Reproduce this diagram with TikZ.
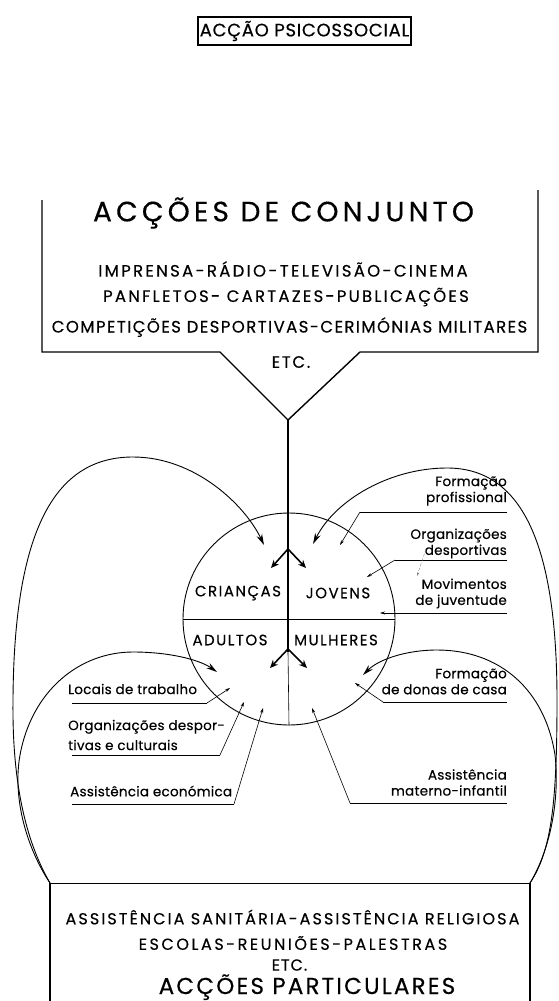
\documentclass[tikz,border=0pt]{standalone}
\usepackage{fontspec}
\setmainfont{Poppins}[FakeBold=0.4]
\usetikzlibrary{arrows.meta}
\begin{document}
\begin{tikzpicture}[x=1pt,y=-1pt,
  heavy/.style={line width=1.4pt},
  bigloop/.style={line width=0.9pt,-{Stealth[length=11pt,width=6pt]}},
  leader/.style={line width=0.6pt,-{Stealth[length=5pt,width=3pt]}},
  under/.style={line width=0.7pt},
  fork/.style={line width=1.6pt,-{Stealth[length=8pt,width=7pt]}},
  txt/.style={inner sep=0pt},
  capsA/.style={txt,font=\fontsize{28}{28}\selectfont\addfontfeature{LetterSpace=15}},
  capsB/.style={txt,font=\fontsize{16.5}{16.5}\selectfont\addfontfeature{LetterSpace=#1}},
  capsC/.style={txt,font=\fontsize{16}{16}\selectfont\addfontfeature{LetterSpace=#1}},
  group/.style={txt,font=\fontsize{15}{15}\selectfont\addfontfeature{LetterSpace=10}},
  lblr/.style={txt,font=\fontsize{13.5}{16}\selectfont\addfontfeature{LetterSpace=2},align=right,anchor=east},
  lbll/.style={txt,font=\fontsize{13.5}{20}\selectfont\addfontfeature{LetterSpace=2},align=left,anchor=west},
]
\useasboundingbox (0,0) rectangle (558,1001);

% title
\node[draw,heavy,minimum width=213pt,minimum height=28pt,inner sep=0pt,
  font=\fontsize{18}{18}\selectfont\addfontfeature{LetterSpace=4}] (title) at (304.5,31) {ACÇÃO PSICOSSOCIAL};

% top box
\coordinate (V) at (288,420);
\draw[heavy,line join=miter] (42,200) -- (42,352) -- (220,352) -- (V) -- (360,352) -- (538,352) -- (538,190);
\node[capsA] (conj) at (283.5,213) {ACÇÕES DE CONJUNTO};
\node[capsB=14] (l1) at (283,269) {IMPRENSA-RÁDIO-TELEVISÃO-CINEMA};
\node[capsB=13.5] (l2) at (286,297) {PANFLETOS- CARTAZES-PUBLICAÇÕES};
\node[capsB=8.7] (l3) at (289.5,327) {COMPETIÇÕES DESPORTIVAS-CERIMÓNIAS MILITARES};
\node[capsB=10] (l4) at (291,362) {ETC.};

% circle
\node[circle,draw,line width=0.9pt,minimum size=212pt,inner sep=0pt] (circ) at (289,619) {};
\draw[line width=1pt] (circ.west) -- (circ.east);
\coordinate (f1) at (288,549);
\coordinate (f2) at (288,649);
\draw[line width=2.4pt] (V) -- (288,652);
\draw[line width=0.6pt] (288,652) -- (circ.south);
\draw[fork] (f1) -- (271,568);
\draw[fork] (f1) -- (306,568);
\draw[fork] (f2) -- (270,668);
\draw[fork] (f2) -- (307,668);

\node[group] (cri) at (238,593) {CRIANÇAS};
\node[group] (jov) at (338,593) {JOVENS};
\node[group] (adu) at (230,640) {ADULTOS};
\node[group] (mul) at (336,640) {MULHERES};

% bottom box
\coordinate (BL) at (50,883);
\coordinate (BR) at (530,883);
\draw[heavy] (50,1001) -- (BL);
\draw[heavy] (530,1001) -- (BR);
\draw[line width=1pt] (BL) -- (BR);
\node[capsC=13] (b1) at (292.5,917) {ASSISTÊNCIA SANITÁRIA-ASSISTÊNCIA RELIGIOSA};
\node[capsC=16] (b2) at (293,943) {ESCOLAS-REUNIÕES-PALESTRAS};
\node[capsC=6] (b3) at (289.5,965) {ETC.};
\node[txt,anchor=base,font=\fontsize{23}{23}\selectfont\addfontfeature{LetterSpace=9.5}] (b4) at (307,994) {ACÇÕES PARTICULARES};

% arrow tips of the big loops
\coordinate (tLo) at (264,545);
\coordinate (tLi) at (217,672);
\coordinate (tRo) at (313,544);
\coordinate (tRi) at (363,675);

\draw[bigloop] (BL) .. controls (25,840) and (12,780) .. (13,700)
  .. controls (14,520) and (60,457) .. (133,457)
  .. controls (195,457) and (245,505) .. (tLo);
\draw[bigloop] (BL) .. controls (28,850) and (12,800) .. (20,755)
  .. controls (32,690) and (80,652) .. (133,652)
  .. controls (170,652) and (200,660) .. (tLi);
\draw[bigloop] (BR) .. controls (552,850) and (557,800) .. (557,700)
  .. controls (557,540) and (520,468) .. (447,468)
  .. controls (390,468) and (335,500) .. (tRo);
\draw[bigloop] (BR) .. controls (550,850) and (560,800) .. (555,755)
  .. controls (545,690) and (500,650) .. (437,650)
  .. controls (405,650) and (378,660) .. (tRi);

% right labels
\node[lblr] (fp) at (507,491) {Formação\\profissional};
\coordinate (ufp) at (360,512);
\draw[under] (ufp) -- (507,512);
\draw[leader] (ufp) -- (340,545);

\node[lblr] (od) at (507,543.5) {Organizações\\desportivas};
\coordinate (uod) at (395,560);
\draw[under] (uod) -- (507,560);
\draw[leader] (uod) -- (367,577);
\draw[line width=0.4pt,gray,densely dashed,-{Stealth[length=4pt,width=2.5pt]}] (426,549) -- (417,576);

\node[lblr] (mj) at (507,593.5) {Movimentos\\de juventude};
\draw[leader] (507,613) -- (380,613);

\node[lblr] (fd) at (507,681.5) {Formação\\de donas de casa};
\coordinate (ufd) at (383,702);
\draw[under] (ufd) -- (507,702);
\draw[leader] (ufd) -- (355,683);

\node[lblr] (am) at (507,782.5) {Assistência\\materno-infantil};
\coordinate (uam) at (350,803);
\draw[under] (uam) -- (507,803);
\draw[leader] (uam) -- (312,708);

% left labels
\node[lbll] (lt) at (68,689) {Locais de trabalho};
\coordinate (ult) at (207,703);
\draw[under] (72,703) -- (ult);
\draw[leader] (ult) -- (230,688);

\node[lbll] (odc) at (68,735) {Organizações despor-\\tivas e culturais};
\coordinate (uodc) at (220,755);
\draw[under] (72,755) -- (uodc);
\draw[leader] (uodc) -- (244,702);

\node[lbll] (ae) at (70,791) {Assistência económica};
\coordinate (uae) at (234,804);
\draw[under] (72,804) -- (uae);
\draw[leader] (uae) -- (263,708);
\end{tikzpicture}
\end{document}
